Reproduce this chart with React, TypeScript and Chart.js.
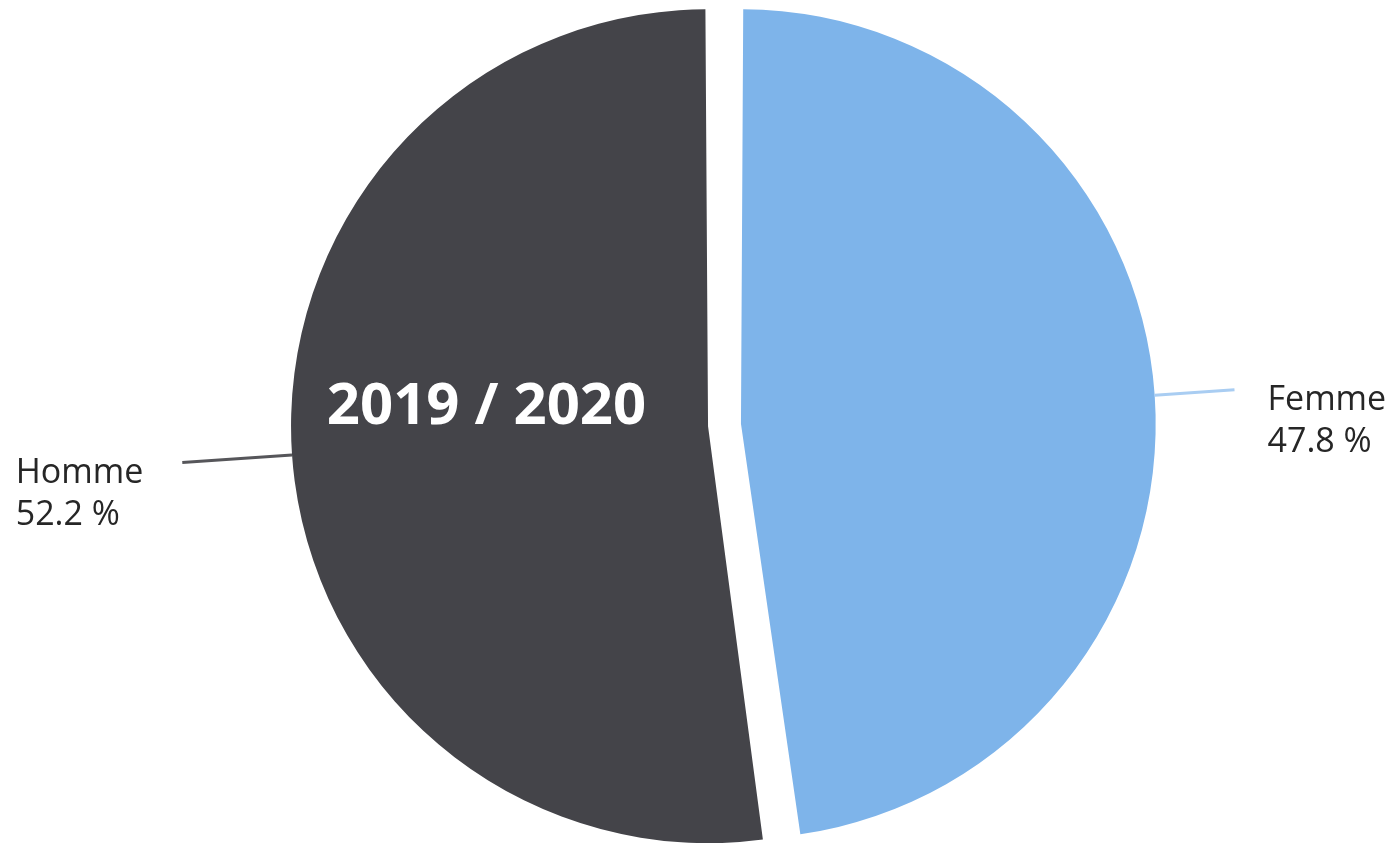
import React, { useEffect, useRef } from "react";
import { Chart, registerables } from "chart.js";

Chart.register(...registerables);

const categories = ["Femme", "Homme"];
const shares = [47.8, 52.2];
const sliceColors = ["#7EB4EA", "#444449"];
const leaderColors = ["#a9cdf2", "#56565a"];
const leaderLengths = [80, 110];
const centerTitle = "2019 / 2020";

const LABEL_FONT = "34px 'Open Sans', 'Liberation Sans', sans-serif";
const TITLE_FONT = "bold 58px 'Open Sans', 'Liberation Sans', sans-serif";

const sliceLabelPlugin = {
  id: "sliceLabels",
  afterDatasetsDraw(chart: any) {
    const ctx: CanvasRenderingContext2D = chart.ctx;
    const meta = chart.getDatasetMeta(0);
    const area = chart.chartArea;
    ctx.save();
    meta.data.forEach((arc: any, i: number) => {
      const p = arc.getProps(["x", "y", "startAngle", "endAngle", "outerRadius", "circumference"], true);
      const off = (arc.options.offset || 0) / 4;
      const mid = (p.startAngle + p.endAngle) / 2;
      const fix = 1 - Math.sin(Math.min(Math.PI, p.circumference));
      const r = p.outerRadius + off * fix;
      const cx = p.x + Math.cos(mid) * off;
      const cy = p.y + Math.sin(mid) * off;
      const x0 = cx + Math.cos(mid) * r;
      const y0 = cy + Math.sin(mid) * r;
      const len = leaderLengths[i];
      const x1 = cx + Math.cos(mid) * (r + len);
      const y1 = cy + Math.sin(mid) * (r + len);
      ctx.strokeStyle = leaderColors[i];
      ctx.lineWidth = 3;
      ctx.beginPath();
      ctx.moveTo(x0, y0);
      ctx.lineTo(x1, y1);
      ctx.stroke();

      const lines = [categories[i], shares[i].toFixed(1) + " %"];
      ctx.font = LABEL_FONT;
      ctx.fillStyle = "#262626";
      ctx.textBaseline = "alphabetic";
      ctx.textAlign = "left";
      const maxW = Math.max(...lines.map((t) => ctx.measureText(t).width));
      const right = Math.cos(mid) > 0;
      const left = right ? x1 + 33 : x1 - 39 - maxW;
      lines.forEach((t, k) => {
        ctx.fillText(t, left, y1 + 20 + k * 42);
      });
    });

    // centre title over the dark slice
    const cxA = (area.left + area.right) / 2;
    const cyA = (area.top + area.bottom) / 2;
    ctx.font = TITLE_FONT;
    ctx.fillStyle = "#ffffff";
    ctx.textAlign = "center";
    ctx.textBaseline = "middle";
    ctx.fillText(centerTitle, cxA - 238, cyA - 18);
    ctx.restore();
  },
};

export default function App() {
  const canvasRef = useRef<HTMLCanvasElement | null>(null);

  useEffect(() => {
    if (!canvasRef.current) return;
    const chart = new Chart(canvasRef.current, {
      type: "pie",
      data: {
        labels: categories,
        datasets: [
          {
            data: shares,
            backgroundColor: sliceColors,
            borderWidth: 0,
            offset: 66,
            radius: 400.5,
          } as any,
        ],
      },
      options: {
        responsive: false,
        animation: false,
        layout: { padding: { left: 53, top: 7, right: 0, bottom: 0 } },
        plugins: {
          legend: { display: false },
          tooltip: { enabled: false },
        },
      } as any,
      plugins: [sliceLabelPlugin],
    });
    return () => chart.destroy();
  }, []);

  return (
    <div style={{ position: "fixed", left: 0, top: 0, width: 1396, height: 843, background: "#ffffff" }}>
      <canvas ref={canvasRef} width={1396} height={843} style={{ display: "block" }} />
    </div>
  );
}
